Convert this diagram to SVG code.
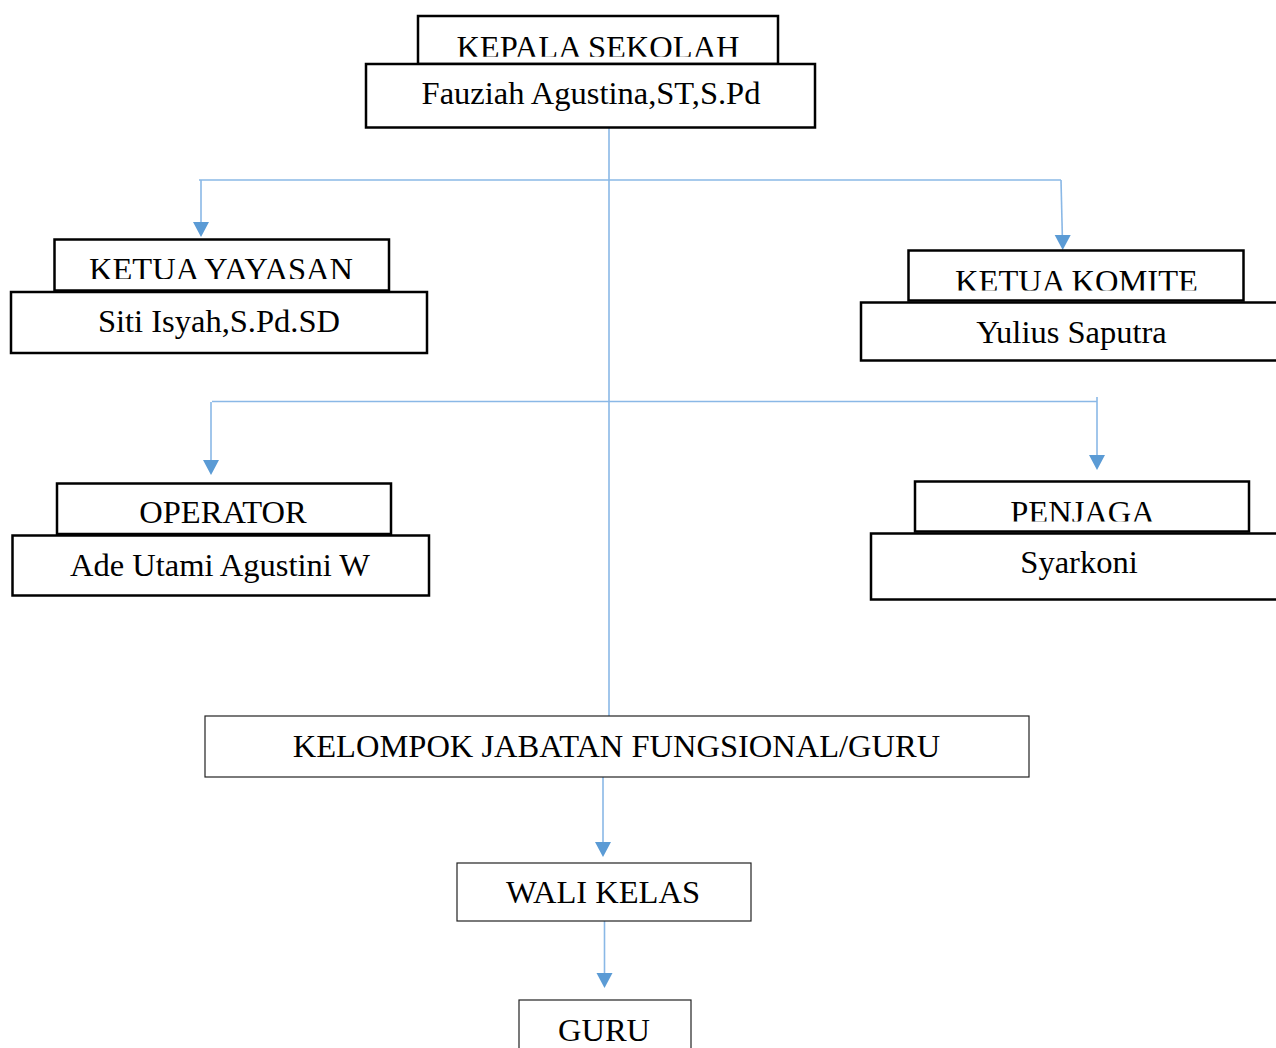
<svg xmlns="http://www.w3.org/2000/svg" width="1276" height="1048" viewBox="0 0 1276 1048">
<style>
.bx{fill:#fff;stroke:#000;stroke-width:2.5}
.tb{fill:#fff;stroke:#222;stroke-width:1.2}
text{font-family:"Liberation Serif","Times New Roman",serif;font-size:32.5px;fill:#000;text-anchor:middle}
.ln{stroke:#8ab8e6;stroke-width:1.6;fill:none}
.ah{fill:#5b9bd5}
</style>
<defs>
<clipPath id="c1"><rect x="418" y="16" width="360" height="40.8"/></clipPath>
<clipPath id="c2"><rect x="54" y="239" width="335" height="40"/></clipPath>
<clipPath id="c3"><rect x="908" y="250" width="336" height="40.5"/></clipPath>
<clipPath id="c5"><rect x="915" y="481" width="334" height="40.5"/></clipPath>
</defs>
<rect width="1276" height="1048" fill="#fff"/>
<g id="connectors">
<line class="ln" x1="609" y1="128" x2="609" y2="716"/>
<line class="ln" x1="199" y1="180" x2="1061" y2="180"/>
<path class="ln" d="M201,180 V230"/>
<path class="ah" d="M201,237 l-8,-15 h16 z"/>
<path class="ln" d="M1061,180 L1062.5,243"/>
<path class="ah" d="M1062.7,250 l-8,-15 h16 z"/>
<line class="ln" x1="212" y1="401.5" x2="1097" y2="401.5"/>
<path class="ln" d="M211,402 V468"/>
<path class="ah" d="M211,475 l-8,-15 h16 z"/>
<path class="ln" d="M1097,397 V463"/>
<path class="ah" d="M1097,470 l-8,-15 h16 z"/>
<path class="ln" d="M603,777 V850"/>
<path class="ah" d="M603,857 l-8,-15 h16 z"/>
<path class="ln" d="M604.5,921 V981"/>
<path class="ah" d="M604.5,988 l-8,-15 h16 z"/>
</g>
<g id="kepala-sekolah">
<rect class="bx" x="418" y="16" width="360" height="48"/>
<text x="598" y="58" clip-path="url(#c1)">KEPALA SEKOLAH</text>
<rect class="bx" x="366" y="64" width="449" height="63.5"/>
<text x="591" y="104">Fauziah Agustina,ST,S.Pd</text>
</g>
<g id="ketua-yayasan">
<rect class="bx" x="54.5" y="239.5" width="334.5" height="51"/>
<text x="221" y="280" clip-path="url(#c2)">KETUA YAYASAN</text>
<rect class="bx" x="11" y="292" width="416" height="61"/>
<text x="219" y="332">Siti Isyah,S.Pd.SD</text>
</g>
<g id="ketua-komite">
<rect class="bx" x="908.5" y="250.5" width="335" height="50"/>
<text x="1076.5" y="292" clip-path="url(#c3)">KETUA KOMITE</text>
<rect class="bx" x="861" y="302.5" width="430" height="58"/>
<text x="1071.5" y="342.5">Yulius Saputra</text>
</g>
<g id="operator">
<rect class="bx" x="57" y="483.5" width="334" height="50.5"/>
<text x="223" y="523">OPERATOR</text>
<rect class="bx" x="12.5" y="535.5" width="416.5" height="60"/>
<text x="220" y="576">Ade Utami Agustini W</text>
</g>
<g id="penjaga">
<rect class="bx" x="915" y="481.5" width="334" height="50"/>
<text x="1082.5" y="523" clip-path="url(#c5)">PENJAGA</text>
<rect class="bx" x="871" y="533.5" width="420" height="66"/>
<text x="1079" y="573">Syarkoni</text>
</g>
<g id="kelompok">
<rect class="tb" x="205" y="716" width="824" height="61"/>
<text x="616.5" y="757">KELOMPOK JABATAN FUNGSIONAL/GURU</text>
</g>
<g id="wali-kelas">
<rect class="tb" x="457" y="863" width="294" height="58"/>
<text x="603" y="903">WALI KELAS</text>
</g>
<g id="guru">
<rect class="tb" x="519" y="1000" width="172" height="60"/>
<text x="604" y="1041">GURU</text>
</g>
</svg>
